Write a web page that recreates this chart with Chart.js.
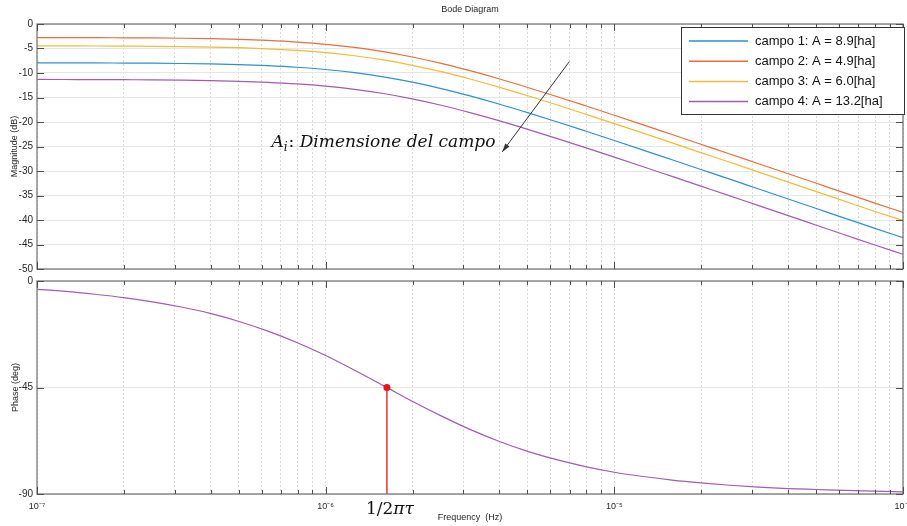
<!DOCTYPE html>
<html>
<head>
<meta charset="utf-8">
<script src="https://cdn.jsdelivr.net/npm/chart.js@4.4.1/dist/chart.umd.min.js"></script>
<style>
  html, body { margin: 0; padding: 0; background: #fff; }
  #wrap { position: relative; width: 907px; height: 526px; }
  #mag-box { position: absolute; left: 0; top: 0; width: 907px; height: 275px; }
  #phase-box { position: absolute; left: 0; top: 275px; width: 907px; height: 251px; }
</style>
</head>
<body>
<div id="wrap">
  <div id="mag-box"><canvas id="mag-chart"></canvas></div>
  <div id="phase-box"><canvas id="phase-chart"></canvas></div>
</div>
<script>
// frequencies (Hz), 10 points per decade
const freqs = [
  1.000e-7, 1.259e-7, 1.585e-7, 1.995e-7, 2.512e-7, 3.162e-7, 3.981e-7, 5.012e-7, 6.310e-7, 7.943e-7,
  1.000e-6, 1.259e-6, 1.585e-6, 1.995e-6, 2.512e-6, 3.162e-6, 3.981e-6, 5.012e-6, 6.310e-6, 7.943e-6,
  1.000e-5, 1.259e-5, 1.585e-5, 1.995e-5, 2.512e-5, 3.162e-5, 3.981e-5, 5.012e-5, 6.310e-5, 7.943e-5,
  1.000e-4,
];

// magnitude (dB)
const magCampo1 = [
  -7.92, -7.93, -7.94, -7.97, -8.00, -8.06, -8.15, -8.29, -8.51, -8.83,
  -9.29, -9.93, -10.79, -11.88, -13.18, -14.68, -16.33, -18.10, -19.94, -21.84,
  -23.77, -25.73, -27.71, -29.69, -31.67, -33.67, -35.66, -37.66, -39.66, -41.66,
  -43.6,
];
const magCampo2 = [
  -2.77, -2.78, -2.79, -2.82, -2.85, -2.91, -3.00, -3.14, -3.36, -3.68,
  -4.14, -4.78, -5.64, -6.73, -8.03, -9.53, -11.18, -12.95, -14.79, -16.69,
  -18.62, -20.58, -22.56, -24.54, -26.52, -28.52, -30.51, -32.51, -34.51, -36.51,
  -38.45,
];
const magCampo3 = [
  -4.47, -4.48, -4.49, -4.52, -4.55, -4.61, -4.70, -4.84, -5.06, -5.38,
  -5.84, -6.48, -7.34, -8.43, -9.73, -11.23, -12.88, -14.65, -16.49, -18.39,
  -20.32, -22.28, -24.26, -26.24, -28.22, -30.22, -32.21, -34.21, -36.21, -38.21,
  -40.1,
];
const magCampo4 = [
  -11.32, -11.33, -11.34, -11.37, -11.40, -11.46, -11.55, -11.69, -11.91, -12.23,
  -12.69, -13.33, -14.19, -15.28, -16.58, -18.08, -19.73, -21.50, -23.34, -25.24,
  -27.17, -29.13, -31.11, -33.09, -35.07, -37.07, -39.06, -41.06, -43.06, -45.06,
  -47.0,
];

// phase (deg), same for every campo
const phaseDeg = [
  -3.5, -4.4, -5.6, -7.0, -8.8, -11.0, -13.7, -17.1, -21.2, -26.0,
  -31.5, -37.7, -44.2, -50.8, -57.0, -62.7, -67.7, -72.0, -75.5, -78.4,
  -80.8, -82.6, -84.1, -85.3, -86.3, -87.1, -87.7, -88.1, -88.5, -88.8,
  -89.1,
];

const seriesLabels = [
  'campo 1: A = 8.9[ha]',
  'campo 2: A = 4.9[ha]',
  'campo 3: A = 6.0[ha]',
  'campo 4: A = 13.2[ha]',
];
const seriesColors = ['#2f8fd0', '#e0703f', '#efbb3c', '#a05cb0'];

const magTicks = [0, -5, -10, -15, -20, -25, -30, -35, -40, -45, -50];
const phaseTicks = [0, -45, -90];
const decades = [1e-7, 1e-6, 1e-5, 1e-4];

// corner frequency marker (1/2*pi*tau)
const cornerFreq = 1.63e-6;
const cornerPhase = -45;

const SANS = '"Liberation Sans", Arial, sans-serif';
const SERIF = '"DejaVu Serif", "Liberation Serif", serif';
Chart.defaults.font.family = SANS;
Chart.defaults.color = '#262626';

function toPoints(arr) {
  return freqs.map((f, i) => ({ x: f, y: arr[i] }));
}

// all 1..9 x 10^n positions, labels only on the decades
function logTickValues() {
  const out = [];
  for (let d = 0; d < decades.length - 1; d++) {
    for (let m = 1; m <= 9; m++) out.push(m * decades[d]);
  }
  out.push(decades[decades.length - 1]);
  return out;
}
const supDigits = { '-': '⁻', '0': '⁰', '1': '¹', '2': '²', '3': '³', '4': '⁴', '5': '⁵', '6': '⁶', '7': '⁷', '8': '⁸', '9': '⁹' };
function isDecade(v) {
  const l = Math.log10(v);
  return Math.abs(l - Math.round(l)) < 1e-6;
}
function decadeLabel(v) {
  const e = String(Math.round(Math.log10(v)));
  return '10' + e.split('').map(c => supDigits[c]).join('');
}

function xScale(showLabels, height) {
  return {
    type: 'logarithmic',
    min: 1e-7,
    max: 1e-4,
    afterBuildTicks: s => { s.ticks = logTickValues().map(v => ({ value: v })); },
    afterFit: s => { s.height = height; s.paddingLeft = 0; s.paddingRight = 0; },
    grid: { color: '#d9d9d9', lineWidth: 1, drawTicks: false },
    border: { display: false, dash: [2, 2] },
    ticks: {
      display: showLabels,
      autoSkip: false,
      maxRotation: 0,
      padding: 7,
      font: { size: 9 },
      callback: v => (isDecade(v) ? decadeLabel(v) : ''),
    },
  };
}

function yScale(min, max, tickList) {
  return {
    min,
    max,
    afterBuildTicks: s => { s.ticks = tickList.map(v => ({ value: v })); },
    afterFit: s => { s.width = 37; s.paddingTop = 0; s.paddingBottom = 0; },
    grid: { color: '#e6e6e6', lineWidth: 1, drawTicks: false },
    border: { display: false },
    ticks: { padding: 4, font: { size: 10 } },
  };
}

// MATLAB-like box with inward tick marks
const matlabFrame = {
  id: 'matlabFrame',
  afterDatasetsDraw(chart) {
    const { ctx, chartArea: a, scales } = chart;
    ctx.save();
    ctx.strokeStyle = '#7a7a7a';
    ctx.lineWidth = 1.3;
    ctx.strokeRect(a.left, a.top, a.right - a.left, a.bottom - a.top);
    ctx.lineWidth = 1;
    ctx.strokeStyle = '#4d4d4d';
    ctx.beginPath();
    scales.x.ticks.forEach(t => {
      const px = Math.round(scales.x.getPixelForValue(t.value)) + 0.5;
      const len = isDecade(t.value) ? 7 : 4;
      ctx.moveTo(px, a.bottom); ctx.lineTo(px, a.bottom - len);
      ctx.moveTo(px, a.top); ctx.lineTo(px, a.top + len);
    });
    scales.y.ticks.forEach(t => {
      const py = Math.round(scales.y.getPixelForValue(t.value)) + 0.5;
      ctx.moveTo(a.left, py); ctx.lineTo(a.left + 7, py);
      ctx.moveTo(a.right, py); ctx.lineTo(a.right - 7, py);
    });
    ctx.stroke();
    ctx.restore();
  },
};

function drawRotated(ctx, text, x, y) {
  ctx.save();
  ctx.translate(x, y);
  ctx.rotate(-Math.PI / 2);
  ctx.textAlign = 'center';
  ctx.textBaseline = 'middle';
  ctx.fillText(text, 0, 0);
  ctx.restore();
}

const magDecor = {
  id: 'magDecor',
  afterDraw(chart) {
    const { ctx, chartArea: a, scales } = chart;
    const xs = scales.x, ys = scales.y;
    ctx.save();
    ctx.fillStyle = '#262626';
    ctx.font = '9px ' + SANS;
    ctx.textAlign = 'center';
    ctx.textBaseline = 'middle';
    ctx.fillText('Bode Diagram', (a.left + a.right) / 2, 10);
    drawRotated(ctx, 'Magnitude (dB)', 15, (a.top + a.bottom) / 2);

    // arrow pointing at the curves
    const x0 = xs.getPixelForValue(6.98e-6), y0 = ys.getPixelForValue(-7.7);
    const x1 = xs.getPixelForValue(4.09e-6), y1 = ys.getPixelForValue(-26.1);
    ctx.strokeStyle = '#333';
    ctx.fillStyle = '#333';
    ctx.lineWidth = 1;
    ctx.beginPath(); ctx.moveTo(x0, y0); ctx.lineTo(x1, y1); ctx.stroke();
    const ang = Math.atan2(y1 - y0, x1 - x0);
    ctx.beginPath();
    ctx.moveTo(x1, y1);
    ctx.lineTo(x1 - 9 * Math.cos(ang - 0.3), y1 - 9 * Math.sin(ang - 0.3));
    ctx.lineTo(x1 - 9 * Math.cos(ang + 0.3), y1 - 9 * Math.sin(ang + 0.3));
    ctx.closePath(); ctx.fill();

    // A_i: Dimensione del campo
    let tx = xs.getPixelForValue(6.49e-7);
    const ty = ys.getPixelForValue(-25.0);
    ctx.fillStyle = '#111';
    ctx.textAlign = 'left';
    ctx.textBaseline = 'alphabetic';
    ctx.font = 'italic 17px ' + SERIF;
    ctx.fillText('A', tx, ty); tx += ctx.measureText('A').width;
    ctx.font = 'italic 12px ' + SERIF;
    ctx.fillText('i', tx, ty + 4); tx += ctx.measureText('i').width + 1;
    ctx.font = '17px ' + SERIF;
    ctx.fillText(':', tx, ty); tx += ctx.measureText(': ').width;
    ctx.font = 'italic 17px ' + SERIF;
    ctx.fillText('Dimensione del campo', tx, ty);

    // legend
    const lx = 681, ly = 27, lw = 223, lh = 87;
    ctx.fillStyle = '#fff';
    ctx.fillRect(lx, ly, lw, lh);
    ctx.strokeStyle = '#333';
    ctx.lineWidth = 1;
    ctx.strokeRect(lx + 0.5, ly + 0.5, lw, lh);
    ctx.font = '13px ' + SANS;
    ctx.textBaseline = 'middle';
    chart.data.datasets.forEach((ds, i) => {
      const ry = ly + 14 + i * 20.2;
      ctx.strokeStyle = ds.borderColor;
      ctx.lineWidth = 1.5;
      ctx.beginPath(); ctx.moveTo(lx + 8, ry); ctx.lineTo(lx + 67, ry); ctx.stroke();
      ctx.fillStyle = '#111';
      ctx.fillText(ds.label, lx + 74, ry);
    });
    ctx.restore();
  },
};

const phaseDecor = {
  id: 'phaseDecor',
  afterDraw(chart) {
    const { ctx, chartArea: a, scales } = chart;
    ctx.save();
    ctx.fillStyle = '#262626';
    ctx.font = '9px ' + SANS;
    drawRotated(ctx, 'Phase (deg)', 16, (a.top + a.bottom) / 2);
    ctx.textAlign = 'center';
    ctx.textBaseline = 'middle';
    ctx.fillText('Frequency  (Hz)', (a.left + a.right) / 2, a.bottom + 24);

    const cx = scales.x.getPixelForValue(cornerFreq);
    ctx.fillStyle = '#111';
    ctx.textBaseline = 'alphabetic';
    ctx.textAlign = 'left';
    ctx.font = '17px ' + SERIF;
    const w1 = ctx.measureText('1/2').width;
    ctx.font = 'italic 17px ' + SERIF;
    const w2 = ctx.measureText('πτ').width;
    const sx = cx + 3 - (w1 + w2) / 2;
    ctx.font = '17px ' + SERIF;
    ctx.fillText('1/2', sx, a.bottom + 20);
    ctx.font = 'italic 17px ' + SERIF;
    ctx.fillText('πτ', sx + w1, a.bottom + 20);
    ctx.restore();
  },
};

const magChart = new Chart(document.getElementById('mag-chart'), {
  type: 'line',
  data: {
    datasets: [magCampo1, magCampo2, magCampo3, magCampo4].map((arr, i) => ({
      label: seriesLabels[i],
      data: toPoints(arr),
      borderColor: seriesColors[i],
      borderWidth: 1.2,
      pointRadius: 0,
      cubicInterpolationMode: 'monotone',
    })),
  },
  options: {
    responsive: true,
    maintainAspectRatio: false,
    animation: false,
    layout: { padding: { top: 24, right: 4, left: 0, bottom: 0 } },
    plugins: { legend: { display: false }, tooltip: { enabled: false } },
    scales: { x: xScale(false, 6), y: yScale(-50, 0, magTicks) },
  },
  plugins: [matlabFrame, magDecor],
});

const phaseChart = new Chart(document.getElementById('phase-chart'), {
  type: 'line',
  data: {
    datasets: [
      {
        label: '1/2πτ',
        data: [{ x: cornerFreq, y: cornerPhase }, { x: cornerFreq, y: -90 }],
        borderColor: '#e8141b',
        backgroundColor: '#e8141b',
        borderWidth: 1.3,
        pointRadius: [3.5, 0],
        pointBackgroundColor: '#e8141b',
        pointBorderWidth: 0,
      },
      {
        label: seriesLabels[3],
        data: toPoints(phaseDeg),
        borderColor: seriesColors[3],
        borderWidth: 1.2,
        pointRadius: 0,
        cubicInterpolationMode: 'monotone',
      },
    ],
  },
  options: {
    responsive: true,
    maintainAspectRatio: false,
    animation: false,
    layout: { padding: { top: 6, right: 4, left: 0, bottom: 0 } },
    plugins: { legend: { display: false }, tooltip: { enabled: false } },
    scales: { x: xScale(true, 32), y: yScale(-90, 0, phaseTicks) },
  },
  plugins: [matlabFrame, phaseDecor],
});
</script>
</body>
</html>
